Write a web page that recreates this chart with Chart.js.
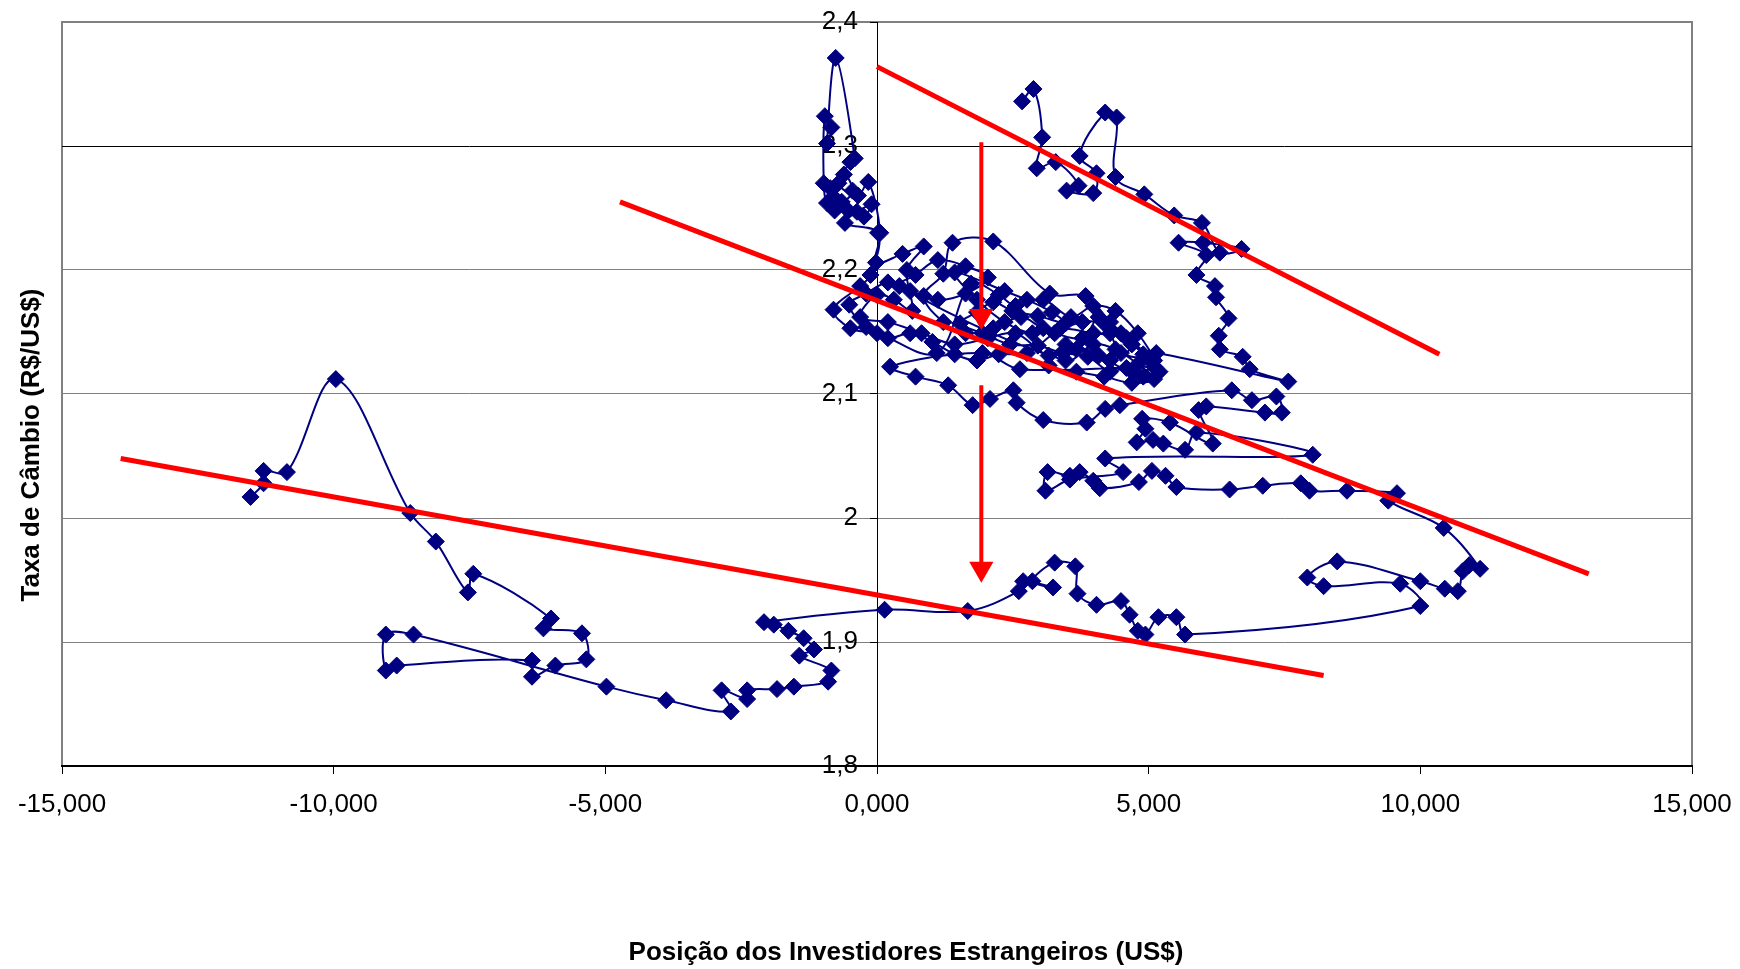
<!DOCTYPE html>
<html><head><meta charset="utf-8">
<script src="https://cdn.jsdelivr.net/npm/chart.js@4.4.1/dist/chart.umd.min.js"></script>
<style>html,body{margin:0;padding:0;background:#fff}#wrap{width:1740px;height:969px;position:relative}</style>
</head><body><div id="wrap"><canvas id="c"></canvas></div>
<script>
// Posição dos investidores estrangeiros (eixo X)
const posicao = [
 2.67,2.88,3.04,2.94,3.29,3.71,3.49,3.98,4.04,3.73,4.20,4.41,4.39,4.92,5.47,5.98,6.31,6.71,6.00,5.55,6.06,5.88,6.22,6.24,6.47,6.29,6.31,6.73,6.86,7.57,5.14,
 5.00,4.49,4.29,4.08,3.78,3.06,2.65,2.14,1.63,1.22,0.86,1.22,1.39,2.14,3.18,3.84,4.29,4.69,4.29,3.67,3.16,2.55,2.04,1.43,0.82,0.20,-0.31,0.00,0.31,0.65,0.55,0.86,0.47,-0.02,0.06,
 -0.16,-0.35,-0.71,-0.49,-0.41,-0.76,-0.92,-0.84,-0.96,-0.98,-0.92,-0.80,-0.86,-0.65,-0.45,-0.61,-0.78,-0.53,-0.37,-0.24,-0.10,-0.59,0.02,-0.12,-0.31,-0.80,-0.49,0.00,
 1.10,1.73,2.24,2.55,3.06,3.57,3.98,4.39,4.80,5.10,4.59,3.98,3.37,2.86,2.35,1.84,1.43,
 2.35,2.76,3.22,3.47,2.96,2.49,2.14,1.84,1.53,1.94,2.45,2.96,3.43,3.88,4.29,4.59,4.90,5.20,4.90,4.49,4.18,3.78,3.27,2.76,2.24,1.84,1.43,1.02,0.61,0.20,-0.20,-0.51,-0.20,0.20,0.61,1.12,1.63,2.04,1.63,1.12,0.71,0.41,
 3.47,3.98,4.39,4.80,5.10,4.69,4.18,3.67,3.16,
 3.47,4.08,4.69,5.10,2.63,1.94,
 0.24,0.71,1.31,1.76,2.08,2.51,2.57,3.06,3.86,4.20,4.47,6.53,6.90,7.35,7.45,7.14,6.06,5.92,6.18,5.39,4.88,4.94,4.78,5.08,5.27,5.67,5.88,8.02,
 4.20,4.53,3.55,3.10,3.14,3.55,3.73,3.98,4.10,4.82,5.06,5.31,5.51,6.49,7.10,7.80,7.96,8.65,9.57,9.41,
 10.43,11.10,10.90,10.78,10.69,10.45,10.00,8.47,7.92,8.22,9.63,10.00,
 5.67,5.51,5.18,4.94,4.80,4.65,4.49,4.04,3.69,3.65,3.27,2.86,3.24,2.69,2.61,1.67,0.14,
 -2.08,-1.90,-1.63,-1.35,-1.16,-1.43,-0.84,-0.90,-1.53,-1.84,-2.39,-2.39,-2.86,-2.69,-3.88,-4.98,
 -8.53,-9.04,-9.04,-8.84,-6.35,-6.35,-5.92,-5.35,-5.43,-6.14,-6.00,-7.43,-7.53,-8.12,-8.59,-9.96,-10.86,-11.29,-11.29,-11.53
];
// Taxa de câmbio R$/US$ (eixo Y)
const taxa = [
 2.336,2.346,2.307,2.282,2.287,2.268,2.264,2.262,2.278,2.292,2.327,2.323,2.275,2.261,2.244,2.238,2.214,2.217,2.222,2.222,2.212,2.196,2.187,2.178,2.161,2.147,2.136,2.130,2.120,2.110,2.133,
 2.129,2.133,2.149,2.162,2.145,2.153,2.162,2.153,2.149,2.158,2.179,2.197,2.222,2.223,2.181,2.179,2.158,2.140,2.127,2.136,2.131,2.149,2.145,2.140,2.149,2.158,2.162,2.180,2.176,2.167,2.200,2.219,2.213,2.206,2.230,
 2.271,2.260,2.270,2.287,2.290,2.371,2.302,2.315,2.324,2.270,2.254,2.259,2.266,2.255,2.264,2.277,2.248,2.248,2.247,2.243,2.253,2.238,2.230,2.196,2.187,2.168,2.153,2.149,
 2.133,2.189,2.180,2.171,2.176,2.162,2.171,2.167,2.149,2.127,2.145,2.149,2.153,2.149,2.158,2.176,2.198,
 2.183,2.176,2.166,2.157,2.163,2.167,2.174,2.166,2.157,2.149,2.140,2.139,2.133,2.130,2.118,2.121,2.114,2.118,2.132,2.149,2.157,2.158,2.149,2.133,2.132,2.127,2.132,2.142,2.149,2.145,2.154,2.172,2.181,2.190,2.183,2.176,2.181,2.194,2.203,2.208,2.196,2.187,
 2.127,2.140,2.136,2.124,2.112,2.109,2.114,2.118,2.123,
 2.140,2.131,2.118,2.122,2.120,2.133,
 2.122,2.114,2.107,2.091,2.096,2.103,2.093,2.079,2.077,2.088,2.091,2.103,2.095,2.098,2.085,2.085,2.090,2.087,2.060,2.077,2.080,2.072,2.061,2.063,2.060,2.055,2.069,2.051,
 2.048,2.037,2.031,2.022,2.037,2.034,2.037,2.030,2.024,2.029,2.038,2.034,2.025,2.023,2.026,2.028,2.022,2.022,2.020,2.014,
 1.992,1.959,1.962,1.957,1.941,1.943,1.949,1.965,1.952,1.945,1.947,1.929,
 1.906,1.920,1.920,1.906,1.909,1.922,1.933,1.930,1.939,1.961,1.964,1.949,1.944,1.949,1.941,1.925,1.926,
 1.916,1.914,1.909,1.903,1.894,1.889,1.877,1.868,1.864,1.862,1.861,1.854,1.861,1.844,1.853,1.864,
 1.906,1.906,1.877,1.881,1.885,1.872,1.881,1.886,1.907,1.911,1.919,1.955,1.940,1.981,2.004,2.112,2.037,2.038,2.028,2.017
];
// Retas de tendência (vermelho)
const tendSupX = [0.00, 10.35],  tendSupY = [2.364, 2.132];
const tendMedX = [-4.73, 13.10], tendMedY = [2.255, 1.955];
const tendInfX = [-13.92, 8.22], tendInfY = [2.048, 1.873];
// Setas
const seta1X = [1.92, 1.92], seta1Y = [2.303, 2.163];
const seta2X = [1.92, 1.92], seta2Y = [2.107, 1.959];
// Ticks
const xTicks = [-15, -10, -5, 0, 5, 10, 15];
const yTicks = [1.8, 1.9, 2.0, 2.1, 2.2, 2.3, 2.4];

const pts = (xs, ys) => xs.map((x, i) => ({x: x, y: ys[i]}));
const FONT = '"Liberation Sans", Arial, sans-serif';
const RED = '#FF0000', NAVY = '#000080';

const frame = {
  id: 'frame',
  beforeDraw(chart) {
    const {ctx, chartArea: a} = chart;
    ctx.save();
    ctx.fillStyle = '#fff';
    ctx.fillRect(0, 0, chart.width, chart.height);
    ctx.strokeStyle = '#808080'; ctx.lineWidth = 2;
    ctx.strokeRect(a.left, a.top, a.right - a.left, a.bottom - a.top);
    ctx.restore();
  },
  afterDraw(chart) {
    const {ctx} = chart;
    ctx.save();
    ctx.fillStyle = '#000';
    ctx.font = 'bold 26px ' + FONT;
    ctx.textAlign = 'center'; ctx.textBaseline = 'middle';
    ctx.fillText('Posição dos Investidores Estrangeiros (US$)', 906, 953);
    ctx.translate(32, 445); ctx.rotate(-Math.PI / 2);
    ctx.fillText('Taxa de Câmbio (R$/US$)', 0, 0);
    ctx.restore();
  }
};

const arrowDs = (xs, ys) => ({
  data: pts(xs, ys), showLine: true, borderColor: RED, borderWidth: 4,
  backgroundColor: RED, pointBorderColor: RED, pointStyle: 'triangle', pointRotation: 180,
  pointRadius: [0, 10], pointHoverRadius: [0, 10], tension: 0, order: 0
});
const lineDs = (xs, ys) => ({
  data: pts(xs, ys), showLine: true, borderColor: RED, borderWidth: 5,
  pointRadius: 0, pointHoverRadius: 0, tension: 0, order: 0, borderCapStyle: 'butt'
});

new Chart(document.getElementById('c'), {
  type: 'scatter',
  data: {
    datasets: [
      lineDs(tendSupX, tendSupY),
      lineDs(tendMedX, tendMedY),
      lineDs(tendInfX, tendInfY),
      arrowDs(seta1X, seta1Y),
      arrowDs(seta2X, seta2Y),
      {
        data: pts(posicao, taxa), showLine: true, borderColor: NAVY, borderWidth: 2,
        backgroundColor: NAVY, pointBorderColor: NAVY, pointBorderWidth: 1,
        pointStyle: 'rectRot', pointRadius: 8.5, pointHoverRadius: 8.5, tension: 0.35, order: 1
      }
    ]
  },
  options: {
    responsive: true, maintainAspectRatio: false, animation: false, devicePixelRatio: 1,
    layout: {padding: {left: 62, top: 22, right: 48, bottom: 0}},
    plugins: {legend: {display: false}, tooltip: {enabled: false}},
    events: [],
    scales: {
      x: {
        type: 'linear', position: 'bottom', min: -15, max: 15,
        afterBuildTicks: s => { s.ticks = xTicks.map(v => ({value: v})); },
        afterFit: s => { s.height = 203; s.paddingLeft = 0; s.paddingRight = 0; },
        ticks: {callback: v => Number(v).toFixed(3).replace('.', ','), font: {family: FONT, size: 26}, color: '#000', padding: 15, maxRotation: 0, autoSkip: false},
        grid: {drawOnChartArea: false, drawTicks: true, tickLength: 8, tickColor: '#000', color: '#000'},
        border: {display: true, color: '#000', width: 2}
      },
      y: {
        type: 'linear', position: 'left', min: 1.8, max: 2.4,
        afterBuildTicks: s => { s.ticks = yTicks.map(v => ({value: v})); },
        afterFit: s => { s.width = 0; s.paddingTop = 0; s.paddingBottom = 0; },
        ticks: {display: false},
        grid: {color: c => (c.tick && Math.abs(c.tick.value - 2.3) < 1e-6) ? '#000' : '#808080', drawTicks: false, lineWidth: 1},
        border: {display: false}
      },
      y2: {
        type: 'linear', axis: 'y', position: 'center', min: 1.8, max: 2.4, z: 1,
        afterBuildTicks: s => { s.ticks = yTicks.map(v => ({value: v})); },
        afterFit: s => { s.paddingTop = 0; s.paddingBottom = 0; },
        ticks: {callback: v => String(Math.round(v * 10) / 10).replace('.', ','), font: {family: FONT, size: 26}, color: '#000', padding: 12},
        grid: {drawOnChartArea: false, drawTicks: true, tickLength: 7, tickColor: '#000'},
        border: {display: true, color: '#000', width: 1}
      }
    }
  },
  plugins: [frame]
});
</script>
</body></html>
